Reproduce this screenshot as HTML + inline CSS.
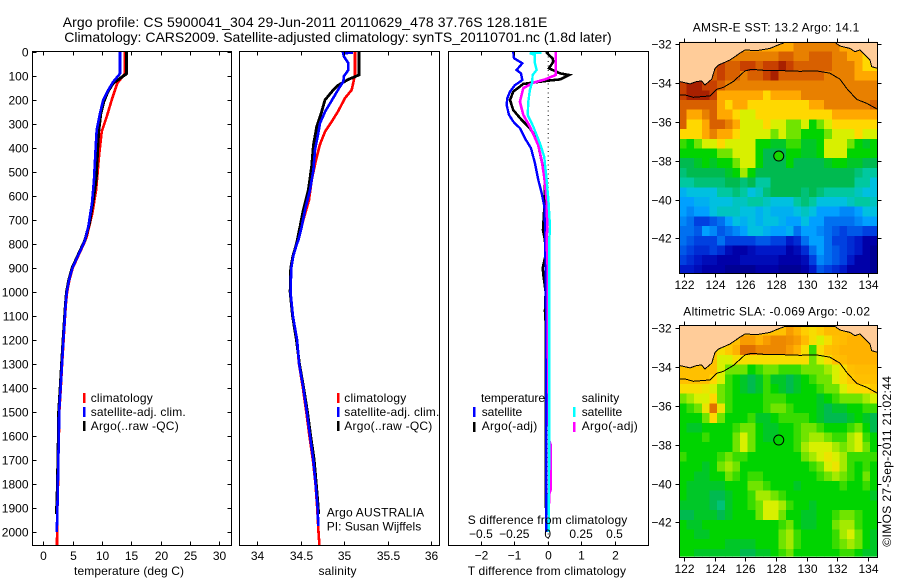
<!DOCTYPE html>
<html lang="en">
<head>
<meta charset="utf-8">
<title>Argo profile CS 5900041_304</title>
<style>
html,body{margin:0;padding:0;background:#fff;}
svg{display:block;}
text{font-family:"Liberation Sans",sans-serif;font-size:12px;fill:#000;}
.t14{font-size:14px;}
</style>
</head>
<body>
<svg id="chart" width="900" height="580" viewBox="0 0 900 580" xmlns="http://www.w3.org/2000/svg">
<rect width="900" height="580" fill="#fff"/>
<text class="t14" x="62.7" y="27" textLength="484.6" lengthAdjust="spacing">Argo profile: CS 5900041_304 29-Jun-2011 20110629_478 37.76S 128.181E</text>
<text class="t14" x="64.3" y="42" textLength="547.4" lengthAdjust="spacing">Climatology: CARS2009. Satellite-adjusted climatology: synTS_20110701.nc (1.8d later)</text>

<g id="panel-t"></g>
<g id="panel-s"></g>
<g id="panel-d"></g>
<g id="map-sst"></g>
<g id="map-sla"></g>

<g>
<rect x="83" y="393" width="2.5" height="10" fill="#f00"/>
<rect x="83" y="407" width="2.5" height="10" fill="#00f"/>
<rect x="83" y="421" width="2.5" height="10" fill="#000"/>
<text x="90.7" y="402" textLength="62" lengthAdjust="spacing">climatology</text>
<text x="90.7" y="416" textLength="95" lengthAdjust="spacing">satellite-adj. clim.</text>
<text x="90.7" y="430" textLength="88" lengthAdjust="spacing">Argo(..raw -QC)</text>
</g>
<g>
<rect x="337" y="393" width="2.5" height="10" fill="#f00"/>
<rect x="337" y="407" width="2.5" height="10" fill="#00f"/>
<rect x="337" y="421" width="2.5" height="10" fill="#000"/>
<text x="344.3" y="402" textLength="62" lengthAdjust="spacing">climatology</text>
<text x="344.3" y="416" textLength="95" lengthAdjust="spacing">satellite-adj. clim.</text>
<text x="344.3" y="430" textLength="88" lengthAdjust="spacing">Argo(..raw -QC)</text>
<text x="326.7" y="516.7" textLength="97.5" lengthAdjust="spacing">Argo AUSTRALIA</text>
<text x="326.7" y="530.7" textLength="94.5" lengthAdjust="spacing">PI: Susan Wijffels</text>
</g>
<g>
<text x="481" y="402" textLength="64" lengthAdjust="spacing">temperature</text>
<text x="481.7" y="416" textLength="40.5" lengthAdjust="spacing">satellite</text>
<text x="481.7" y="430" textLength="55.5" lengthAdjust="spacing">Argo(-adj)</text>
<rect x="473" y="407" width="2.5" height="10" fill="#00f"/>
<rect x="473" y="422" width="2.5" height="10" fill="#000"/>
<text x="581.7" y="402" textLength="37.5" lengthAdjust="spacing">salinity</text>
<text x="581.7" y="416" textLength="40.5" lengthAdjust="spacing">satellite</text>
<text x="581.7" y="430" textLength="56" lengthAdjust="spacing">Argo(-adj)</text>
<rect x="573" y="407" width="2.5" height="10" fill="#0ff"/>
<rect x="573" y="422" width="2.5" height="10" fill="#f0f"/>
</g>
<text x="74" y="575" textLength="110" lengthAdjust="spacing">temperature (deg C)</text>
<text x="318.5" y="575" textLength="38" lengthAdjust="spacing">salinity</text>
<text x="467.7" y="524" textLength="159.6" lengthAdjust="spacing">S difference from climatology</text>
<text x="467.7" y="575" textLength="158.3" lengthAdjust="spacing">T difference from climatology</text>
<text x="692.7" y="31.7" textLength="166.6" lengthAdjust="spacing">AMSR-E SST: 13.2 Argo: 14.1</text>
<text x="683.3" y="315.7" textLength="186.7" lengthAdjust="spacing">Altimetric SLA: -0.069 Argo: -0.02</text>
<text transform="translate(891,546.7) rotate(-90)" x="0" y="0" textLength="170.7" lengthAdjust="spacing">©IMOS 27-Sep-2011 21:02:44</text>
</svg>
<script>
// ---------- tick labels ----------
const depthTicks = [0,100,200,300,400,500,600,700,800,900,1000,1100,1200,1300,1400,1500,1600,1700,1800,1900,2000];
const tempTicks = [0,5,10,15,20,25,30];
const salTicks = [34,34.5,35,35.5,36];
const tDiffTicks = [-2,-1,0,1,2];
const sDiffTicks = [-0.5,-0.25,0,0.25,0.5];
const lonTicks = [122,124,126,128,130,132,134];
const latTicks = [-32,-34,-36,-38,-40,-42];

// ---------- temperature profiles ----------
const climTempDepth = [0,90,130,200,270,332,430,575,672,770,800,850,900,950,1000,1050,1100,1200,1300,1400,1500,1600,1700,1800,1900,2000,2054];
const climTemp = [13.9,13.9,12.6,11.65,10.8,9.95,9.5,9,8.35,7.4,6.9,5.95,5.0,4.45,4.05,3.85,3.72,3.45,3.2,2.98,2.72,2.66,2.55,2.5,2.4,2.35,2.33];
const satTempDepth = [0,90,124,158,200,256,325,420,533,630,728,783,800,850,900,950,1000,1050,1100,1200,1300,1400,1500,1600,1700,1800,1900,2000];
const satTemp = [13.06,13.06,11.9,11.07,10.2,9.66,9.1,8.87,8.64,8.3,7.67,7.1,6.85,5.9,4.95,4.4,4.0,3.82,3.7,3.42,3.18,2.95,2.7,2.65,2.55,2.48,2.4,2.3];
const argoTempDepth = [0,90,110,130,165,207,256,338,436,533,617,714,783,800,850,900,950,1000,1050,1100,1200,1300,1400,1500,1600,1700,1800,1925];
const argoTemp = [14.2,14.2,13.06,11.9,11,10.3,9.8,9.4,9.2,9,8.5,7.85,7.1,6.8,5.85,4.9,4.35,3.95,3.78,3.65,3.38,3.12,2.88,2.62,2.58,2.48,2.42,2.25];

// ---------- salinity profiles ----------
const climSalDepth = [0,95,158,192,248,290,332,387,450,533,617,700,783,800,850,900,1000,1100,1200,1300,1400,1500,1600,1700,1800,1900,2000,2054];
const climSal = [35.126,35.126,35.087,35.01,34.93,34.857,34.78,34.72,34.676,34.627,34.596,34.53,34.47,34.455,34.415,34.39,34.38,34.41,34.455,34.48,34.525,34.565,34.6,34.64,34.67,34.69,34.705,34.715];
const satSalDepth = [2,6,20,47,75,100,124,144,179,214,249,297,353,408,492,575,658,728,783,800,850,900,1000,1100,1200,1300,1400,1500,1600,1700,1800,1900,1975];
const satSal = [35.1,34.99,35.0,35.049,35.049,34.999,34.991,34.953,34.895,34.838,34.78,34.722,34.695,34.665,34.646,34.607,34.55,34.511,34.473,34.455,34.415,34.392,34.382,34.41,34.458,34.482,34.53,34.57,34.607,34.645,34.672,34.695,34.703];
const argoSalDepth = [0,96,114,138,158,200,249,311,387,478,575,658,728,783,800,850,900,1000,1100,1200,1300,1400,1500,1600,1700,1800,1900,1925];
const argoSal = [35.171,35.171,35.049,34.934,34.876,34.78,34.741,34.684,34.646,34.626,34.588,34.53,34.492,34.461,34.45,34.41,34.385,34.378,34.405,34.45,34.486,34.535,34.578,34.615,34.655,34.68,34.703,34.705];

// ---------- differences from climatology ----------
const satTDiffDepth = [0,26,47,75,89,117,138,165,193,221,262,290,318,360,401,464,533,589,644,714,783,900,1100,1400,1700,2000];
const satTDiff = [-1.03,-1.01,-0.76,-0.93,-0.80,-0.76,-0.98,-1.13,-1.21,-1.23,-1.16,-1.03,-0.83,-0.68,-0.50,-0.38,-0.28,-0.18,-0.10,-0.08,-0.08,-0.06,-0.05,-0.04,-0.04,-0.04];
const argoTDiffDepth = [0,26,40,68,89,96,114,119,133,165,200,242,283,318,360,422,506,575,672,742,783,850,900,930,1000,1080,1150,1300,1600,1900];
const argoTDiff = [-0.05,0.14,0.17,0.04,0.37,0.64,0.37,0.02,-0.73,-1.03,-1.13,-1.03,-0.78,-0.53,-0.33,-0.23,-0.10,-0.08,-0.11,-0.14,-0.08,-0.07,-0.15,-0.13,-0.06,-0.08,-0.05,-0.05,-0.05,-0.05];
const satSDiffDepth = [3,5,12,47,75,96,124,158,207,262,311,381,436,533,617,728,783,1000,1500,2000];
const satSDiff = [-0.046,-0.133,-0.096,-0.096,-0.083,-0.113,-0.115,-0.133,-0.145,-0.15,-0.108,-0.058,-0.026,-0.008,0.005,0.017,0.012,0.012,0.012,0.008];
const argoSDiffDepth = [0,96,114,128,151,207,262,311,388,450,519,617,728,783,900,1100,1300,1620,1640,1820,1840,1950];
const argoSDiff = [0.06,0.06,-0.02,-0.108,-0.183,-0.208,-0.183,-0.133,-0.071,-0.046,-0.026,-0.008,-0.003,-0.008,0,0,0.003,0.012,0.024,0.024,0.012,0.005];

// ---------- map levels (position on the colour scale), north to south ----------
const sstLevels = [
[14,14,14,14,14,14,14,14,13,13,13,13,13,13,13,14,14,14,14,14,14,13,13,13,13,13],
[15,15,15,15,15,15,14,14,14,14,14,14,14,15,15,14,14,15,15,15,14,14,13,13,12,12],
[15,15,15,15,15,16,15,15,16,16,15,16,16,17,16,15,15,15,15,15,14,14,14,13,12,12],
[16,16,16,16,15,16,15,15,14,15,15,16,17,15,15,15,15,15,15,14,14,14,14,13,13,13],
[16,17,17,16,16,15,14,14,14,14,14,14,14,14,14,14,14,14,14,14,14,14,14,14,14,14],
[16,17,17,17,16,13,13,13,13,13,13,12,13,13,13,13,14,14,14,14,14,14,14,14,14,14],
[15,15,15,15,15,13,12,13,13,12,12,12,12,12,12,12,12,13,13,14,14,14,14,14,14,15],
[15,13,13,14,15,13,13,12,11,11,12,12,12,12,12,12,12,12,12,12,13,13,13,13,13,13],
[15,12,12,13,15,15,14,13,11,11,11,12,11,11,10,10,11,9,10,11,12,12,12,12,12,12],
[12,12,12,13,14,13,13,12,11,11,11,11,10,11,10,10,9,9,9,10,11,11,11,12,11,11],
[9.5,9,10,11,11,12,11,11,11,11,9,9,8.5,8.5,9.5,9.5,8.5,8.5,9,11,11,11,10,9,8.5,9],
[9,9,9,9,9,10,10,11,11,11,9,8,8,8,9,9,8.5,8.5,9,11,11,11,9,9,9,9],
[8,8,8.5,9,8.5,9,9,10,11,11,9,8,8,8,9,8,8,8,8,8.5,9,9,8.5,8.5,8,8],
[7.5,8,8,8,8,8,8.5,9,10.5,9,8,8,8,8,8,8,8,8,8,8,8,8,8,7.5,7,7],
[7,7,7.5,7.5,7.5,7.5,8,8,7.5,8,7,7,8,8,8,8,8,8,8,8,8,8,8,7,7,6],
[5.5,6,6,6,6,7,7,7.5,7,6,6.5,7.5,8,8,8,8,7.5,8,7.5,7,7,7,7,6.5,6,6],
[5,5,5.5,5.5,6,6,6,6.5,6.5,7,7,6.5,6,6,6,7,7.5,7,6,6,6,6,6.5,7,7,6.5],
[5,4.5,5,5,6,6.5,6.5,6.5,6,6,5.5,6,5.5,5.5,5.5,6,6.5,6,5,5,5,4.5,4.5,5,6,6],
[4.5,4,3,3,3.5,4,5,6,5.5,6,5.5,6,6,5.5,5,5,6,5,5,4,4,4,4,4.5,5,5],
[4,4,3.5,5,4.5,3.5,4,4.5,5,6,6,5.5,5,5,5.5,4,5,5,4.5,4,3.5,3,3.5,3.5,3,3],
[4,3.5,3,3,3,4,3,3,3,3,3.5,3.5,3,3,2,2.5,4,5,5,4,3,3,2.5,2,1,1],
[3.5,3,2.5,2.5,3,2.5,1.5,1,1,1.5,2,2,2,2,1,1.5,2.5,4,5,4,3.5,3,2.5,2,1,0.5],
[3,2.5,2,1.5,1.5,1,1,1,1.5,1.5,1.5,1.5,1.5,1,1,1,1.5,3,4.5,4,3.5,3,2,1,1,0.5],
[2,2,1.5,1,1,1,0.5,0.5,0.5,0.5,1,1,1,0.5,0.5,0.5,1,2,3.5,3,2.5,2,1,1,1,0.5]
];
const slaLevels = [
[12.5,12.5,12.5,12.5,12.5,12.5,12.5,12.5,12.5,12.5,12.5,12.5,12.5,12.5,13.3,12.8,12.2,11.8,12.2,12.6,12.6,12.6,12.6,12.6,12.6,12.6],
[12.5,12.5,12.5,12.5,12.5,12.5,12.5,12.5,13.3,13.3,12.8,13.3,13.8,13.8,13.6,13.3,12.6,11.8,11,11.8,12.5,12.6,12.8,12.8,12.8,12.8],
[12.5,12.5,12.5,12.5,12.5,11.8,12.3,12.8,14.5,14.5,13.8,13.8,13.8,13.8,13.3,12.8,11.8,9.5,11.8,12.5,12.6,12.8,12.8,12.8,12.8,12.8],
[12.5,12.5,12.5,12.5,12.5,11,11,11.8,11.8,11.8,11.8,11.8,11.8,11.8,11.8,11.8,11.8,10,11,11.8,12.5,12.6,12.8,12.8,12.8,12.8],
[12.5,12.5,12.5,12.5,12.5,11,10,10,10,9,9.5,10,10,9.5,9.5,9.5,10,10,10,10.5,11,11.8,12.5,12.6,12.6,12.6],
[12.5,12.5,12.5,12.5,12,11,9.5,9,8.5,8,8.5,9.5,8.5,8.5,8,8.5,9,9.5,10,10,11,11.8,12.3,12.5,12.5,12.5],
[11.8,11.8,11.8,11.5,11,10,9.5,9,8.5,8,8.5,9.5,9,8.5,8,8.5,9,9,9.5,10,10,11,11.8,12,12,12.3],
[10,10.5,11,11,12,10,9.5,9,9,9,9,9.5,9.5,9.5,9,9,9,9,8.5,9,9.5,10,10,10,10.5,11],
[9,9.5,10,11.5,14.5,11.5,9.5,9,9,9,9,9.5,10,10,9.5,9,9,9,8.5,8,8.5,8.5,9,9,9.5,9.5],
[9,9,9,10,12,10,9,9,9,9.5,8.5,8.5,9,9.5,9.5,9.5,9.5,9,8.5,8,8,8,8.5,9,8.5,8],
[9,8.5,8.5,9,9,9,9,9.5,10,10,9,8.5,8.5,9,9,9.5,10,10,9.5,9,9,9,9.5,10,9,8],
[9,9,9,9.5,9,9,9,10,11,10,9,8.5,8.5,9,9,9.5,10,10.5,10.5,10,9.5,9.5,10.5,11,9.5,9],
[9,9,9,9,9,9,9,10,11,10,9,9,9,9,9,9.5,10.5,11,11,11,10.5,10,10.5,11,10,9],
[9.5,9,9,9,9,9.5,10,9.5,9.5,9,9,9,9,9,9,9,10,10.5,11,11.5,11,10.5,9.5,9.5,9.5,9.5],
[9,9,9,8.5,9,10,10.5,10,9,9,9,9,9,9,9,9,9,9.5,10,11,11.5,10.5,9.5,9,9.5,9],
[9,9,8.5,8.5,9,9,10,9.5,9,9.5,9.5,9,9,9,9,9,9,9,9.5,10,10.5,10,9.5,9,10,9],
[9,8.5,8.5,8.5,8.5,8.5,9,9,9,10,10,9.5,9,9,9,8.5,9,9,9,9,9,9.5,9,9,9.5,9],
[9,8.5,8.5,8.5,8,8,8.5,9,9,9.5,10.5,10.5,10,9.5,9,9,9,9,9,9,9,9,9,9,9,8.5],
[8.5,8.5,8.5,8.5,8,7.5,8.5,9,9,9.5,10,11,11,10.5,9.5,9,9,8.5,9,9,9,9,9,9,9,9],
[8,8,8.5,8.5,8.5,8,8.5,9,9,9,10,11,11,10,9,9,8.5,8.5,9,9,9.5,10,10,9.5,9,9],
[9,8.5,8.5,9,9,9,9,9,9,9,9,9,9,9.5,10,9,8.5,8.5,9,9,10,10.5,10.5,9.5,9,9],
[9,9,8.5,8.5,9,9,9,9,9,9,9,9,9,10,10.5,9.5,9,9,9,9,9.5,10.5,11,10,9,8.5],
[9,9,9,9,9,9,8.5,8.5,8.5,8.5,9,9,9,10,10.5,9.5,9,9,9,9,9.5,10,10.5,10,9,8.5],
[9,9,8.5,8.5,8.5,8.5,8.5,8.5,8,8,8.5,8.5,9,9.5,10,9,9,9,9,9,9,9.5,9.5,9,8.5,8.5]
];
const sstArgoLevel = 9.2;
const slaArgoLevel = 9;
const profileLon = 128.181;
const profileLat = -37.76;

// ---------- coastline and shelf contour ----------
const coastLon = [121.67,122.04,122.37,122.81,123.13,123.35,123.79,124.01,124.23,124.99,125.64,125.97,126.73,127.61,128.15,128.59,131.86,132.19,132.84,133.17,133.5,133.93,134.15,134.26,134.65];
const coastLat = [-33.92,-33.98,-34.04,-33.92,-33.89,-34.1,-33.8,-33.24,-33.07,-32.81,-32.46,-32.29,-32.33,-32.21,-32.03,-31.9,-31.9,-32.09,-32.21,-32.38,-32.29,-32.64,-32.81,-33.15,-33.24];
const shelfLon = [121.67,122.04,122.59,123.68,124.12,124.55,125.21,125.97,126.41,127.17,128.48,129.57,130.66,131.53,132.19,132.62,133.28,133.93,134.65];
const shelfLat = [-34.63,-34.61,-34.73,-34.66,-34.32,-34.22,-33.92,-33.37,-33.29,-33.34,-33.36,-33.39,-33.37,-33.49,-33.8,-34.27,-34.84,-35.04,-35.35];

// ---------- colour scale ----------
const levelColors = ['#000080','#0000a8','#0018c8','#0040e0','#0070f0','#00a0ff','#00c0e0','#00c8a0','#00ba50','#00d400','#70e400','#d8f000','#ffd800','#ffa800','#e88000','#d86000','#c84000','#a82000'];

const NS = 'http://www.w3.org/2000/svg';
function hexToRgb(h){return [parseInt(h.substr(1,2),16),parseInt(h.substr(3,2),16),parseInt(h.substr(5,2),16)];}
function levelColor(v){
  const c = Math.max(0,Math.min(levelColors.length-1,v));
  const i = Math.floor(c), j = Math.min(levelColors.length-1,i+1), f = c-i;
  const a = hexToRgb(levelColors[i]), b = hexToRgb(levelColors[j]);
  return 'rgb('+a.map((q,k)=>Math.round(q+(b[k]-q)*f)).join(',')+')';
}
function make(tag,parent){const e=document.createElementNS(NS,tag);parent.appendChild(e);return e;}

// ---------- axis functions ----------
const plotTop = 52, plotBottom = 545;
function yDepth(d){return plotTop + d*0.24;}
function xTemp(t){return 43.3 + t*5.87;}
function xSal(s){return 257.3 + (s-34)*86.8;}
function xTDiff(t){return 547.7 + t*33.4;}
function xSDiff(s){return 547.7 + s*133.6;}

function frame(g,x0,x1,y0,y1){
  const r = make('rect',g);
  
  
  r.setAttribute('x',x0);r.setAttribute('y',y0);
  r.setAttribute('width',x1-x0);r.setAttribute('height',y1-y0);
  r.setAttribute('fill','none');r.setAttribute('stroke','#000');
  r.setAttribute('shape-rendering','crispEdges');
}
function tick(g,x1,y1,x2,y2){
  const l = make('line',g);
  
  
  l.setAttribute('x1',x1);l.setAttribute('y1',y1);l.setAttribute('x2',x2);l.setAttribute('y2',y2);
  l.setAttribute('stroke','#000');l.setAttribute('shape-rendering','crispEdges');
}
function tickText(g,str,x,y,anchor){
  const t = make('text',g);
  
  
  t.setAttribute('x',x);t.setAttribute('y',y);t.setAttribute('text-anchor',anchor);
  t.textContent = String(str).replace('-','\u2212');
  return t;
}
function profile(g,name,xFn,depths,vals,color,width){
  const p = make('polyline',g);
  
  
  p.setAttribute('points',vals.map((v,i)=>xFn(v).toFixed(1)+','+yDepth(depths[i]).toFixed(1)).join(' '));
  p.setAttribute('fill','none');p.setAttribute('stroke',color);p.setAttribute('stroke-width',width);
  p.setAttribute('stroke-linejoin','miter');
  p.setAttribute('shape-rendering','crispEdges');
  return p;
}

// ---------- temperature panel ----------
const gT = document.getElementById('panel-t');
profile(gT,'climatology-temperature-line',xTemp,climTempDepth,climTemp,'#f00',2.6);
profile(gT,'argo-temperature-line',xTemp,argoTempDepth,argoTemp,'#000',3);
profile(gT,'satellite-temperature-line',xTemp,satTempDepth,satTemp,'#00f',2.6);
frame(gT,32.5,231.5,plotTop-0.5,plotBottom+0.5);
depthTicks.forEach(d=>{
  const y = Math.round(yDepth(d))+0.5;
  tick(gT,32.5,y,36.5,y);
  tick(gT,227.5,y,231.5,y);
  tickText(gT,d,28.5,y+4,'end');
});
tempTicks.forEach(t=>{
  const x = Math.round(xTemp(t))+0.5;
  tick(gT,x,51.5,x,55.5);
  tick(gT,x,541.5,x,545.5);
  tickText(gT,t,x,560,'middle');
});

// ---------- salinity panel ----------
const gS = document.getElementById('panel-s');
profile(gS,'climatology-salinity-line',xSal,climSalDepth,climSal,'#f00',2.6);
profile(gS,'argo-salinity-line',xSal,argoSalDepth,argoSal,'#000',2.8);
profile(gS,'satellite-salinity-line',xSal,satSalDepth,satSal,'#00f',2.6);
frame(gS,239.5,439.5,plotTop-0.5,plotBottom+0.5);
salTicks.forEach(s=>{
  const x = Math.round(xSal(s))+0.5;
  tick(gS,x,51.5,x,55.5);
  tick(gS,x,541.5,x,545.5);
  tickText(gS,s,x,560,'middle');
});

// ---------- difference panel ----------
const gD = document.getElementById('panel-d');
const zeroLine = make('line',gD);


zeroLine.setAttribute('x1',xTDiff(0)+0.5);zeroLine.setAttribute('x2',xTDiff(0)+0.5);
zeroLine.setAttribute('y1',plotTop);zeroLine.setAttribute('y2',plotBottom);
zeroLine.setAttribute('stroke','#000');zeroLine.setAttribute('stroke-width',1);zeroLine.setAttribute('stroke-dasharray','1 3.5');
profile(gD,'argo-t-difference-line',xTDiff,argoTDiffDepth,argoTDiff,'#000',2.6);
profile(gD,'satellite-t-difference-line',xTDiff,satTDiffDepth,satTDiff,'#00f',2.4);
profile(gD,'argo-s-difference-line',xSDiff,argoSDiffDepth,argoSDiff,'#f0f',2.6);
profile(gD,'satellite-s-difference-line',xSDiff,satSDiffDepth,satSDiff,'#0ff',2.4);
frame(gD,448.5,648.5,plotTop-0.5,plotBottom+0.5);
tDiffTicks.forEach(t=>{
  const x = Math.round(xTDiff(t))+0.5;
  tick(gD,x,51.5,x,55.5);
  tick(gD,x,541.5,x,545.5);
  tickText(gD,t,x,559.5,'middle');
});
sDiffTicks.forEach(s=>{
  tickText(gD,s,xSDiff(s),538,'middle');
});

// ---------- maps ----------
const mapLeft = 679.5, mapRight = 877.5, mapHeight = 231.6;
const gridLon0 = 121.65, gridLat0 = -31.87, gridStep = 0.5;
function xLon(lon){return 684.3 + (lon-122)*15.28;}
function drawMap(gId,clipId,y32,mapTop,levels,argoLevel,labelY){
  const g = document.getElementById(gId);
  function yLat(lat){return y32 + (-32-lat)*19.4;}
  const defs = make('defs',g);
  const clip = make('clipPath',defs);
  clip.setAttribute('id',clipId);
  const cr = make('rect',clip);
  cr.setAttribute('x',mapLeft);cr.setAttribute('y',mapTop);
  cr.setAttribute('width',mapRight-mapLeft);cr.setAttribute('height',mapHeight);
  const body = make('g',g);
  
  
  body.setAttribute('clip-path','url(#'+clipId+')');
  levels.forEach((row,j)=>{
    row.forEach((v,i)=>{
      const r = make('rect',body);
      
      
      const x0 = xLon(gridLon0+i*gridStep), x1 = xLon(gridLon0+(i+1)*gridStep);
      const y0 = yLat(gridLat0-j*gridStep), y1 = yLat(gridLat0-(j+1)*gridStep);
      r.setAttribute('x',x0.toFixed(1));r.setAttribute('y',y0.toFixed(1));
      r.setAttribute('width',(x1-x0+0.6).toFixed(1));r.setAttribute('height',(y1-y0+0.6).toFixed(1));
      r.setAttribute('fill',levelColor(v));
      r.setAttribute('shape-rendering','crispEdges');
    });
  });
  const coastPts = coastLon.map((lon,i)=>xLon(lon).toFixed(1)+','+yLat(coastLat[i]).toFixed(1));
  const land = make('polygon',body);
  
  
  land.setAttribute('points',coastPts.join(' ')+' '+mapRight+','+(mapTop-1)+' '+mapLeft+','+(mapTop-1));
  land.setAttribute('fill','#ffcc99');
  const coast = make('polyline',body);
  
  
  coast.setAttribute('points',coastPts.join(' '));
  coast.setAttribute('fill','none');coast.setAttribute('stroke','#000');coast.setAttribute('stroke-width',1);
  coast.setAttribute('shape-rendering','crispEdges');
  const shelf = make('polyline',body);
  
  
  shelf.setAttribute('points',shelfLon.map((lon,i)=>xLon(lon).toFixed(1)+','+yLat(shelfLat[i]).toFixed(1)).join(' '));
  shelf.setAttribute('fill','none');shelf.setAttribute('stroke','#000');shelf.setAttribute('stroke-width',1);
  shelf.setAttribute('shape-rendering','crispEdges');
  const marker = make('circle',body);
  
  
  marker.setAttribute('cx',xLon(profileLon));marker.setAttribute('cy',yLat(profileLat));
  marker.setAttribute('r',5);marker.setAttribute('fill',levelColor(argoLevel));
  marker.setAttribute('stroke','#000');marker.setAttribute('stroke-width',1);
  frame(g,mapLeft,mapRight,Math.round(mapTop)+0.5,Math.round(mapTop+mapHeight)+0.5);
  const top = Math.round(mapTop)+0.5, bottom = Math.round(mapTop+mapHeight)+0.5;
  lonTicks.forEach(lon=>{
    const x = Math.round(xLon(lon))+0.5;
    tick(g,x,top-4,x,top);
    tick(g,x,bottom,x,bottom+4);
    tickText(g,lon,x,labelY,'middle');
  });
  latTicks.forEach(lat=>{
    const y = Math.round(yLat(lat))+0.5;
    tick(g,mapLeft-4,y,mapLeft,y);
    tick(g,mapRight,y,mapRight+4,y);
    tickText(g,lat,671.7,y+4,'end');
  });
}
drawMap('map-sst','clip-sst',44.3,41.7,sstLevels,sstArgoLevel,289);
drawMap('map-sla','clip-sla',328.3,325,slaLevels,slaArgoLevel,573);
</script>
</body>
</html>
